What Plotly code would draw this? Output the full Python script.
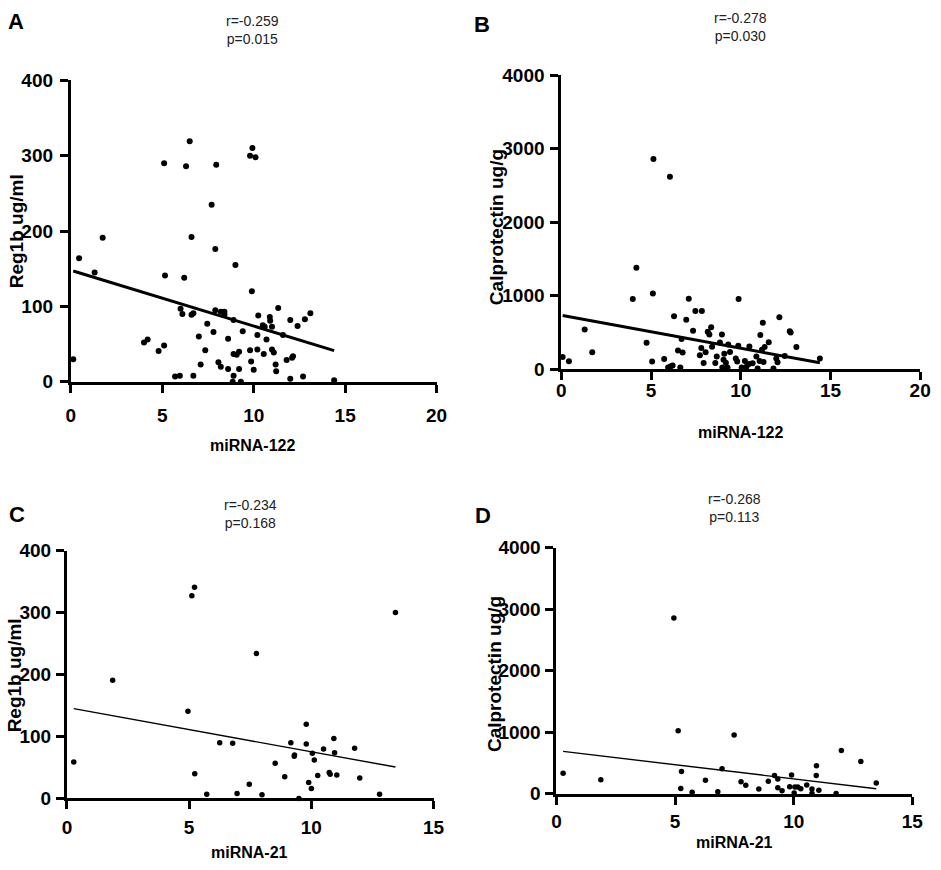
import plotly.graph_objects as go

# ---------------- data ----------------
A_x = [0.13, 0.45, 1.3, 1.74, 4.0, 4.2, 4.8, 5.1, 5.1, 5.15, 5.7, 5.96, 6.0, 6.1, 6.2, 6.3, 6.5, 6.6,
       6.6, 6.7, 6.7, 7.0, 7.1, 7.35, 7.46, 7.7, 7.8, 7.9, 7.9, 7.95, 8.07, 8.2, 8.2, 8.4, 8.4, 8.6,
       8.6, 8.85, 8.9, 8.9, 8.9, 9.0, 9.07, 9.2, 9.2, 9.3, 9.4, 9.8, 9.86, 9.9, 9.8, 9.93, 10.0, 10.1,
       10.2, 10.2, 10.25, 10.55, 10.5, 10.6, 10.7, 10.88, 10.9, 11.0, 11.0, 11.1, 11.2, 11.23, 11.34,
       11.6, 11.8, 12.0, 12.0, 12.1, 12.15, 12.4, 12.7, 12.8, 13.1, 14.4]
A_y = [30, 164, 145, 191, 52, 56, 41, 48, 290, 141, 7, 8, 97, 90, 138, 286, 319, 192,
       89, 91, 8, 60, 23, 42, 77, 235, 66, 95, 176, 288, 26, 20, 93, 93, 89, 17,
       57, 0, 82, 37, 8, 155, 36, 40, 17, 0, 67, 42, 27, 120, 300, 310, 16, 298,
       62, 43, 88, 37, 75, 73, 56, 86, 81, 73, 43, 39, 23, 14, 98,
       62, 29, 4, 82, 32, 34, 74, 7, 83, 91, 2]

B_x = [0.07, 0.42, 1.3, 1.72, 3.98, 4.18, 4.75, 5.06, 5.1, 5.13, 5.73, 5.95, 6.05, 6.08, 6.2, 6.28,
       6.5, 6.63, 6.7, 6.76, 6.96, 7.1, 7.34, 7.47, 7.72, 7.8, 7.83, 7.93, 8.04, 8.16, 8.25, 8.35,
       8.4, 8.58, 8.66, 8.84, 8.95, 8.97, 9.04, 9.08, 9.17, 9.26, 9.3, 9.4, 9.72, 9.8, 9.86, 9.88,
       10.05, 10.23, 10.32, 10.45, 10.48, 10.66, 10.87, 10.94, 11.05, 11.09, 11.18, 11.23, 11.27,
       11.33, 11.56, 11.82, 11.98, 12.05, 12.15, 12.45, 12.73, 12.78, 13.1, 14.41]
B_y = [164, 106, 539, 230, 955, 1379, 358, 102, 1030, 2860, 137, 22, 2621, 35, 49, 720,
       252, 22, 411, 225, 672, 959, 522, 791, 190, 287, 791, 84, 230, 508, 473, 570,
       305, 84, 172, 362, 473, 22, 128, 208, 88, 22, 336, 234, 146, 102, 318, 955,
       22, 110, 31, 71, 309, 80, 172, 9, 110, 464, 265, 632, 97,
       300, 367, 9, 146, 93, 707, 177, 517, 500, 300, 146]

C_x = [0.28, 1.87, 4.95, 5.11, 5.22, 5.23, 5.72, 6.25, 6.78, 6.96, 7.46, 7.75, 7.98, 8.52, 8.91,
       9.16, 9.3, 9.31, 9.49, 9.79, 9.79, 9.89, 10.0, 10.04, 10.12, 10.26, 10.5, 10.73, 10.77,
       10.92, 10.95, 11.04, 11.77, 11.98, 12.79, 13.44]
C_y = [59, 191, 141, 327, 341, 40, 7, 90, 89, 8, 23, 234, 6, 57, 35,
       90, 68, 70, 0, 120, 88, 26, 16, 73, 62, 37, 80, 42, 39,
       97, 74, 38, 81, 33, 7, 300]

D_x = [0.28, 1.87, 4.95, 5.13, 5.24, 5.27, 5.72, 6.28, 6.8, 6.98, 7.49, 7.78, 7.98, 8.53, 8.93,
       9.19, 9.33, 9.33, 9.51, 9.83, 9.91, 10.02, 10.05, 10.17, 10.3, 10.55, 10.77, 10.77, 10.95,
       10.96, 11.06, 11.79, 12.01, 12.83, 13.48]
D_y = [332, 227, 2855, 1024, 84, 359, 21, 216, 32, 406, 955, 195, 137, 74, 200,
       296, 237, 95, 47, 111, 301, 11, 106, 106, 79, 142, 74, 0, 296,
       454, 53, 0, 702, 522, 174]

# linear fit parameters (intercept, slope)
fit_intercept = {"A": 148, "B": 732, "C": 147, "D": 700}
fit_slope = {"A": -7.4, "B": -44.8, "C": -7.16, "D": -46.0}

stats_text = {"A": ("r=-0.259", "p=0.015"), "B": ("r=-0.278", "p=0.030"),
              "C": ("r=-0.234", "p=0.168"), "D": ("r=-0.268", "p=0.113")}
y_titles = {"A": "Reg1b ug/ml", "B": "Calprotectin ug/g", "C": "Reg1b ug/ml", "D": "Calprotectin ug/g"}
x_titles = {"A": "miRNA-122", "B": "miRNA-122", "C": "miRNA-21", "D": "miRNA-21"}
x_ranges = {"A": [0, 20], "B": [0, 20], "C": [0, 15], "D": [0, 15]}
y_ranges = {"A": [0, 400], "B": [0, 4000], "C": [0, 400], "D": [0, 4000]}
y_dticks = {"A": 100, "B": 1000, "C": 100, "D": 1000}
x_dticks = {"A": 5, "B": 5, "C": 5, "D": 5}

data = {"A": (A_x, A_y), "B": (B_x, B_y), "C": (C_x, C_y), "D": (D_x, D_y)}

# ---------------- layout geometry (pixels) ----------------
W, H = 941, 870
# plot area boxes: (left, right, top, bottom) in pixels
boxes = {"A": (67, 439, 72, 381), "B": (566, 931, 67, 368),
         "C": (63, 436, 554, 808), "D": (561, 923, 551, 803)}
x_standoff = {"A": 6, "B": -6, "C": 2, "D": 1}
y_standoff = {"A": 3, "B": 2, "C": 1, "D": 1}
line_w = {"A": 3, "B": 3, "C": 1.4, "D": 1.4}
marker_sz = {"A": 6, "B": 6, "C": 5.5, "D": 5.5}

FAM = "Liberation Sans, Arial, sans-serif"
TICKFONT = dict(family=FAM, size=19, color="black", weight=700)

fig = go.Figure()
annotations = []
layout = {}
for i, key in enumerate(["A", "B", "C", "D"]):
    n = "" if i == 0 else str(i + 1)
    xa, ya = "x" + n, "y" + n
    l, r, t, b = boxes[key]
    xs, ys = data[key]
    fig.add_trace(go.Scatter(x=xs, y=ys, mode="markers", xaxis=xa, yaxis=ya,
                             marker=dict(color="black", size=marker_sz[key]),
                             cliponaxis=False, showlegend=False, hoverinfo="x+y"))
    x0, x1 = min(xs), max(xs)
    fig.add_trace(go.Scatter(x=[x0, x1],
                             y=[fit_intercept[key] + fit_slope[key] * x0, fit_intercept[key] + fit_slope[key] * x1],
                             mode="lines", xaxis=xa, yaxis=ya, cliponaxis=False,
                             line=dict(color="black", width=line_w[key]), showlegend=False))
    common = dict(showgrid=False, zeroline=False, showline=True, linecolor="black", linewidth=3,
                  ticks="outside", ticklen=8, tickwidth=3, tickcolor="black", tickfont=TICKFONT,
                  tickprefix="<b>", ticksuffix="</b>", fixedrange=True, tick0=0)
    layout["xaxis" + n] = dict(domain=[l / W, r / W], anchor=ya, range=x_ranges[key],
                               dtick=x_dticks[key], ticklabelstandoff=x_standoff[key], **common)
    layout["yaxis" + n] = dict(domain=[1 - b / H, 1 - t / H], anchor=xa, range=y_ranges[key],
                               dtick=y_dticks[key], ticklabelstandoff=y_standoff[key], **common)

# text positions in pixels (centres)
letter_pos = {"A": (11, 12), "B": (485, 15), "C": (12, 517), "D": (486, 518)}
stats_pos = {"A": (252, 12), "B": (748, 8), "C": (250, 507), "D": (742, 501)}
ytitle_pos = {"A": (12, 227), "B": (500, 222), "C": (10, 682), "D": (498, 681)}
xtitle_pos = {"A": (252, 446), "B": (748, 433), "C": (249, 863), "D": (742, 853)}

for key in ["A", "B", "C", "D"]:
    px, py = letter_pos[key]
    annotations.append(dict(text=key, x=px / W, y=1 - py / H, xref="paper", yref="paper", showarrow=False,
                            xanchor="center", yanchor="middle",
                            font=dict(family=FAM, size=22, color="black", weight="bold")))
    sx, sy = stats_pos[key]
    r_txt, p_txt = stats_text[key]
    annotations.append(dict(text=r_txt + "<br>" + p_txt, x=sx / W, y=1 - (sy + 9) / H, xref="paper", yref="paper",
                            showarrow=False, xanchor="center", yanchor="middle", align="center",
                            font=dict(family=FAM, size=14, color="#222222")))
    tx, ty = ytitle_pos[key]
    annotations.append(dict(text=y_titles[key], x=tx / W, y=1 - ty / H, xref="paper", yref="paper",
                            showarrow=False, xanchor="center", yanchor="middle", textangle=-90,
                            font=dict(family=FAM, size=19, color="black", weight="bold")))
    qx, qy = xtitle_pos[key]
    annotations.append(dict(text=x_titles[key], x=qx / W, y=1 - qy / H, xref="paper", yref="paper",
                            showarrow=False, xanchor="center", yanchor="middle",
                            font=dict(family=FAM, size=16, color="black", weight="bold")))

fig.update_layout(width=W, height=H, margin=dict(l=0, r=0, t=0, b=0), plot_bgcolor="white",
                  paper_bgcolor="white", annotations=annotations, **layout)
fig.write_html("out.html", config={"displayModeBar": False},
               post_script="document.body.style.margin='0';")
